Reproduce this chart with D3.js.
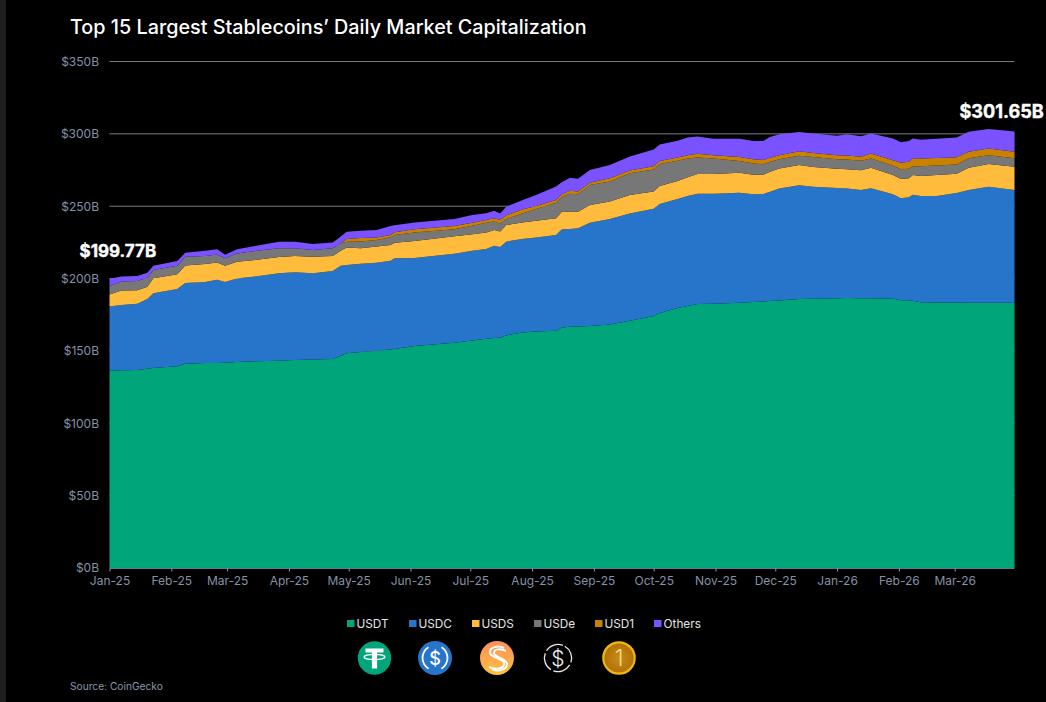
<!DOCTYPE html>
<html>
<head>
<meta charset="utf-8">
<script src="https://cdn.jsdelivr.net/npm/d3@7/dist/d3.min.js"></script>
<style>
html,body{margin:0;padding:0;background:#000;overflow:hidden}
svg{display:block}
text{font-family:Inter,"Noto Sans",sans-serif}
</style>
</head>
<body>
<div id="chart"></div>
<script>
const dates = ["2025-01-01","2025-01-07","2025-01-15","2025-01-20","2025-01-23","2025-02-04","2025-02-08","2025-02-18","2025-02-24","2025-02-28","2025-03-06","2025-03-15","2025-03-27","2025-04-04","2025-04-13","2025-04-23","2025-04-27","2025-04-30","2025-05-07","2025-05-15","2025-05-22","2025-05-24","2025-06-03","2025-06-23","2025-07-02","2025-07-09","2025-07-13","2025-07-16","2025-07-19","2025-07-27","2025-08-03","2025-08-13","2025-08-16","2025-08-20","2025-08-24","2025-08-30","2025-09-09","2025-09-19","2025-10-01","2025-10-04","2025-10-13","2025-10-18","2025-10-23","2025-10-31","2025-11-13","2025-11-20","2025-11-25","2025-11-28","2025-12-03","2025-12-13","2025-12-20","2026-01-01","2026-01-06","2026-01-13","2026-01-18","2026-01-29","2026-02-02","2026-02-06","2026-02-08","2026-02-12","2026-02-20","2026-03-02","2026-03-08","2026-03-18","2026-03-31"];
const usdt = [136.5,136.7,136.8,137.7,138.2,139.4,141.2,141.7,141.7,141.9,142.3,142.8,143.2,143.7,144.1,144.4,146.7,148.4,149.3,150.2,151,151.3,153.4,155.7,157.2,158.4,158.9,159.1,160.7,162.7,163.4,164,166.2,166.7,166.9,167.2,168.3,170.9,174.1,176.2,179.7,181,182.4,182.6,183.3,183.8,184.2,184.5,184.8,185.9,186,186.4,186.6,186.4,186.4,186.1,185,185,184.6,183.6,183.5,183.4,183.3,183.3,183.3];
const usdc = [44.2,45.1,45.8,48.2,51.6,53.4,55.8,56,57.4,55.8,57.8,58.7,60.4,60.6,59.6,60.8,62.2,61,61,60.8,61.4,62.7,60.8,61.5,62.1,62,63.8,62.7,64.8,64.6,65,66.1,67.9,67.5,67.9,71.4,72.9,74,74.1,75.3,75.3,76,76.2,76,76,74.4,74.3,75.3,77.5,78.6,77.5,76.2,75.7,74.8,76.1,72.1,70.5,71.2,73.3,73.5,73.6,75.7,77.9,80.2,77.9];
const usds = [8.3,9.9,9.3,8.5,10.4,10.2,12,12.4,12,11.1,11.5,11.3,11.3,11.3,11.3,10.4,10.4,12,10.6,11.1,10.8,10.8,11.7,12,11.3,11.5,10.8,10.8,11.5,11.5,11.5,11.5,12.2,12,11.3,12.2,12,12.9,12,12.4,12.4,13.1,13.6,13.6,13.8,13.5,13.3,13.8,13.8,14,13.6,13.3,13.3,13.6,14,13.3,13.3,13.1,13.6,13.8,14.5,13.3,15.4,15.7,16.1];
const usde = [5.9,6.2,6.4,6.2,5.7,5.9,6,5.5,5.5,5.3,5.8,6.2,6,5.3,4.8,5.3,5.1,4.1,4.8,4.6,5.3,5.3,6,4.8,5.9,6.6,6,5.5,4.1,6.2,8.2,10.8,10.2,12.4,12.2,13.8,13.8,15,15.2,15.2,14,12.8,11.5,10.8,8.1,7.9,7.2,6.9,6.4,6.4,6.9,6.5,6.6,6.6,6.5,6.4,6.7,6.6,6,6.7,6.6,6.5,6.5,6,5.8];
const usd1 = [0,0,0,0,0,0,0,0,0,0,0,0,0,0,0,0,0,1.9,2.3,1.6,1.6,1.9,2.1,2.3,2.1,1.9,2.1,2.3,2.6,2.8,2.1,1.9,1.7,2.1,1.8,1.6,2.3,1.8,2.3,2.1,2.3,2.4,2.5,2.3,2.8,2.8,3,2.8,2.8,3,2.8,2.8,2.8,2.8,3.5,3.9,4.6,4.8,5.7,5.3,5.2,5,4.6,4.6,4.6];
const others = [4.9,3.5,3.5,3.5,3,3.2,2.8,3.7,3.7,2.3,2.8,3.5,4.6,4.6,4.1,4.1,4.6,5,5,5.3,6.2,4.8,4.8,4.8,5.3,4.8,5.3,4.6,5.9,6.4,7.6,9.3,8.6,9,8.8,8.8,9.2,9.7,11.5,11.5,11.5,12.2,12,11.3,12.6,12.6,13.1,14.3,14.5,13.3,13.5,13.5,14.8,14.1,13.8,15,14.1,14.3,13.6,13.1,13.3,13.6,13.8,13.6,13.9];

const seriesNames = ["USDT","USDC","USDS","USDe","USD1","Others"];
const seriesValues = [usdt,usdc,usds,usde,usd1,others];
const seriesColors = ["#00A67A","#2775CA","#FFBB3C","#777777","#C98200","#7B52FF"];
const yTicks = [0,50,100,150,200,250,300,350];
const xTickDates = ["2025-01-01","2025-02-01","2025-03-01","2025-04-01","2025-05-01","2025-06-01","2025-07-01","2025-08-01","2025-09-01","2025-10-01","2025-11-01","2025-12-01","2026-01-01","2026-02-01","2026-03-01"];
const titleText = "Top 15 Largest Stablecoins’ Daily Market Capitalization";
const sourceText = "Source: CoinGecko";
const firstLabel = "$199.77B", lastLabel = "$301.65B";

const W = 1046, H = 702;
const parse = d3.utcParse("%Y-%m-%d");
const svg = d3.select("#chart").append("svg").attr("width",W).attr("height",H);
svg.append("rect").attr("width",W).attr("height",H).attr("fill","#000");
svg.append("rect").attr("width",6).attr("height",H).attr("fill","#1e1e1e");

const x = d3.scaleUtc().domain([parse(dates[0]),parse(dates[dates.length-1])]).range([109.5,1014.5]);
const y = d3.scaleLinear().domain([0,350]).range([568,61.5]);

svg.append("text").text(titleText).attr("x",70).attr("y",34).attr("fill","#fff")
  .attr("font-size",19.8).attr("font-weight",500);

// grid
svg.append("g").selectAll("line").data(yTicks.filter(d=>d>0)).join("line")
  .attr("x1",109.5).attr("x2",1014.5).attr("y1",d=>y(d)).attr("y2",d=>y(d))
  .attr("stroke","#7a7a7a").attr("stroke-width",1);

// stacked areas
const rows = dates.map((d,i)=>{
  const r = {date:parse(d)};
  seriesNames.forEach((n,k)=>r[n]=seriesValues[k][i]);
  return r;
});
const stacked = d3.stack().keys(seriesNames)(rows);
const area = d3.area().x(d=>x(d.data.date)).y0(d=>y(d[0])).y1(d=>y(d[1])).curve(d3.curveLinear);
svg.append("g").selectAll("path").data(stacked).join("path")
  .attr("d",area).attr("fill",(d,i)=>seriesColors[i]);

// axes
const yAxis = d3.axisLeft(y).tickValues(yTicks).tickSize(0).tickPadding(10).tickFormat(d=>`$${d}B`);
const gy = svg.append("g").attr("transform","translate(109,0)").call(yAxis);
gy.select(".domain").remove();
gy.selectAll("text").attr("fill","#8492a6").attr("font-size",12).attr("font-family","Inter");

const xAxis = d3.axisBottom(x).tickValues(xTickDates.map(parse)).tickSize(3).tickPadding(5).tickFormat(d3.utcFormat("%b-%y"));
const gx = svg.append("g").attr("transform","translate(0,568.5)").call(xAxis);
gx.select(".domain").attr("stroke","#66768c").attr("stroke-width",1.2).attr("d","M109.5,0H1014.5");
gx.selectAll("line").attr("stroke","#8b98aa");
gx.selectAll("text").attr("fill","#8492a6").attr("font-size",12).attr("font-family","Inter");

// end labels
const lab = (t,xp,yp,fs)=>svg.append("text").text(t).attr("x",xp).attr("y",yp).attr("fill","#fff")
  .attr("font-size",fs).attr("font-weight",700).attr("stroke","#fff").attr("stroke-width",0.4);
lab(firstLabel,79.5,257,17);
lab(lastLabel,959.5,117.5,18.1);

// legend
const swatchX = [347,409,472,534,595,654];
const legend = svg.append("g");
seriesNames.forEach((n,i)=>{
  legend.append("rect").attr("x",swatchX[i]).attr("y",620).attr("width",7.5).attr("height",7).attr("fill",seriesColors[i]);
  legend.append("text").text(n).attr("x",swatchX[i]+9.5).attr("y",627.5)
    .attr("fill","#e4e4e4").attr("font-size",11.8);
});

// coin icons
const defs = svg.append("defs");
const g1 = defs.append("linearGradient").attr("id","usdsG").attr("x1",0).attr("y1",0).attr("x2",0).attr("y2",1);
g1.append("stop").attr("offset","0").attr("stop-color","#FF8E5E");
g1.append("stop").attr("offset","1").attr("stop-color","#FFC23C");
const g2 = defs.append("radialGradient").attr("id","usd1G");
g2.append("stop").attr("offset","0").attr("stop-color","#C98A14");
g2.append("stop").attr("offset","1").attr("stop-color","#B0700A");

const coinY = 658;
// USDT
const t = svg.append("g").attr("transform",`translate(374.5,${coinY})`);
t.append("circle").attr("r",16.7).attr("fill","#00A67A");
t.append("path").attr("d","M-9,-9.5H9V-5.5H2.6V10.5H-2.6V-5.5H-9Z").attr("fill","#fff");
t.append("ellipse").attr("cx",0).attr("cy",-1).attr("rx",10.5).attr("ry",2.6).attr("fill","none").attr("stroke","#fff").attr("stroke-width",1.2);
// USDC
const c = svg.append("g").attr("transform",`translate(435,${coinY})`);
c.append("circle").attr("r",17).attr("fill","#2775CA");
const arc = d3.arc().innerRadius(11.6).outerRadius(13.4);
c.append("path").attr("d",arc({startAngle:-2.6,endAngle:-0.55})).attr("fill","#fff");
c.append("path").attr("d",arc({startAngle:0.55,endAngle:2.6})).attr("fill","#fff");
c.append("text").text("$").attr("text-anchor","middle").attr("y",6.5).attr("fill","#fff").attr("font-size",18).attr("font-weight",500);
// USDS
const s = svg.append("g").attr("transform",`translate(497,${coinY})`);
s.append("circle").attr("r",17).attr("fill","url(#usdsG)");
s.append("path").attr("d","M7,-10C1,-13 -8,-11 -7,-5C-6,0 6,0 7,5C8,11 -2,12 -8,9").attr("fill","none").attr("stroke","#fff").attr("stroke-width",2);
s.append("path").attr("d","M9,-7C3,-10 -3,-9 -3,-5C-3,-1 10,1 10,6C10,12 1,14 -5,11").attr("fill","none").attr("stroke","#fff").attr("stroke-width",2);
// USDe
const e = svg.append("g").attr("transform",`translate(558,${coinY})`);
e.append("circle").attr("r",13.6).attr("fill","none").attr("stroke","#e8e8e8").attr("stroke-width",1.3).attr("stroke-dasharray","18.5 2.9").attr("transform","rotate(-60)");
e.append("text").text("$").attr("text-anchor","middle").attr("y",7.5).attr("fill","#f0f0f0").attr("font-size",21).attr("font-weight",300);
// USD1
const o = svg.append("g").attr("transform",`translate(619,${coinY})`);
o.append("circle").attr("r",15.7).attr("fill","url(#usd1G)").attr("stroke","#F0B90B").attr("stroke-width",2.2);
o.append("text").text("1").attr("text-anchor","middle").attr("y",8).attr("fill","#F5D98A").attr("font-size",23).attr("font-weight",300);

svg.append("text").text(sourceText).attr("x",70).attr("y",690).attr("fill","#8b97aa").attr("font-size",10.2);
</script>
</body>
</html>
